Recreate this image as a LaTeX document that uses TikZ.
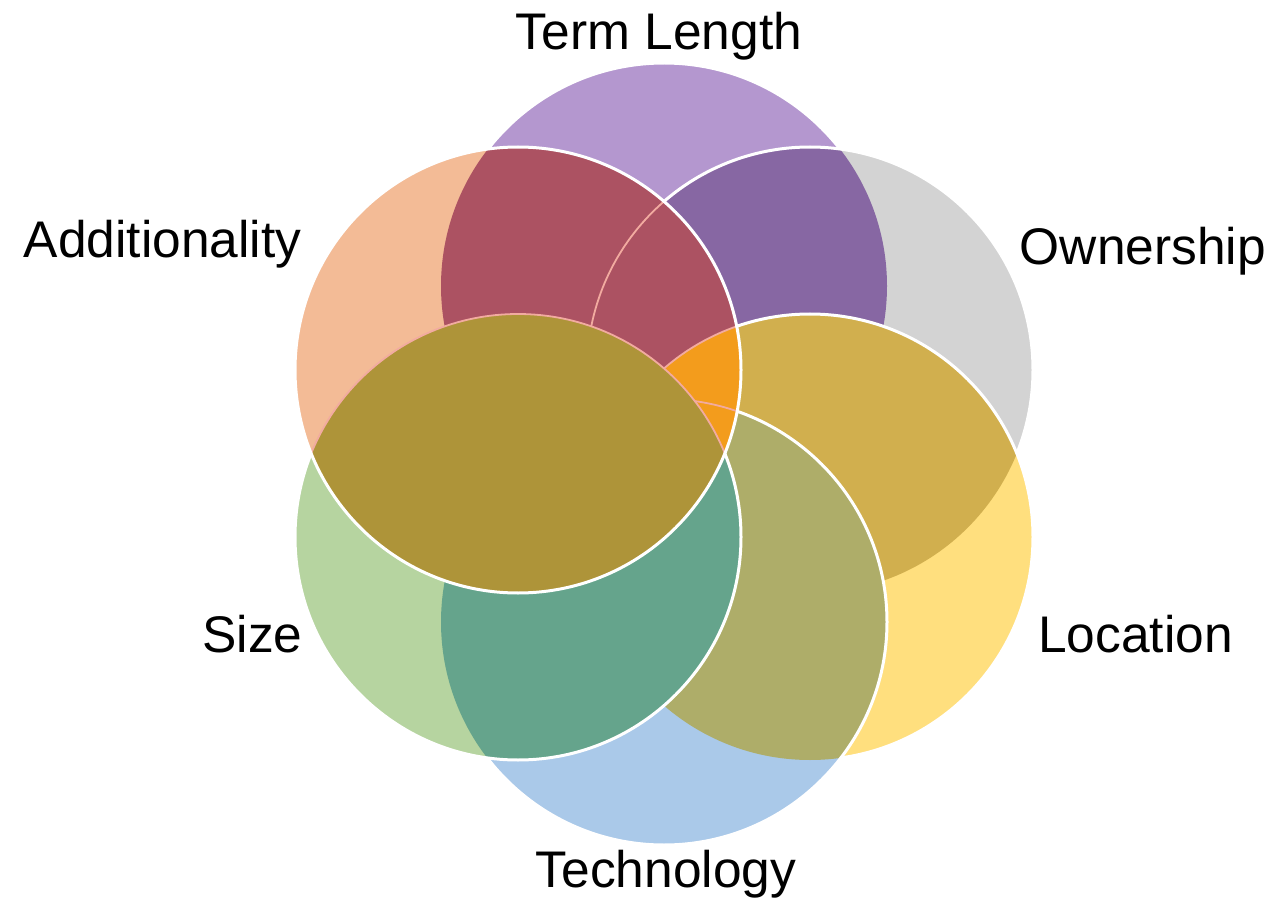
\documentclass[tikz,border=0pt]{standalone}
\usepackage{fontspec}
\setmainfont{Liberation Sans}
\definecolor{cT}{HTML}{B497CF}
\definecolor{cO}{HTML}{D3D3D3}
\definecolor{cL}{HTML}{FFDF7E}
\definecolor{cK}{HTML}{AAC9E9}
\definecolor{cS}{HTML}{B6D4A0}
\definecolor{cA}{HTML}{F3BB96}
\definecolor{cTO}{HTML}{8767A3}
\definecolor{cLO}{HTML}{D1AF4E}
\definecolor{cKL}{HTML}{AEAD69}
\definecolor{cSK}{HTML}{65A48C}
\definecolor{cAT}{HTML}{AC5262}
\definecolor{cAL}{HTML}{F39C1C}
\definecolor{cAS}{HTML}{AE9439}
\definecolor{pinkline}{HTML}{F2ABA0}
\begin{document}
\begin{tikzpicture}[x=1pt,y=-1pt,
  wline/.style={draw=white,line width=3pt},
  pline/.style={draw=pinkline,line width=1.8pt},
  lbl/.style={inner sep=0pt,font=\fontsize{51.5}{60}\selectfont,text=black}]
\useasboundingbox (0,0) rectangle (1277,901);
\coordinate (cT) at (664,286);
\coordinate (cO) at (810,370);
\coordinate (cL) at (810,537);
\coordinate (cK) at (664,622);
\coordinate (cS) at (518,537);
\coordinate (cA) at (518,370);
% Term Length
\fill[cT] (cT) circle (223pt);
\draw[wline] (cT) circle (223pt);
% Ownership
\fill[cO] (cO) circle (223pt);
\begin{scope}
  \clip (cO) circle (223pt);
  \fill[cTO] (cT) circle (223pt);
\end{scope}
\draw[wline] (cO) circle (223pt);
% Location
\fill[cL] (cL) circle (223pt);
\begin{scope}
  \clip (cL) circle (223pt);
  \fill[cLO] (cO) circle (223pt);
\end{scope}
\draw[wline] (cL) circle (223pt);
% Technology
\fill[cK] (cK) circle (223pt);
\begin{scope}
  \clip (cK) circle (223pt);
  \fill[cKL] (cL) circle (223pt);
\end{scope}
\draw[wline] (cK) circle (223pt);
% Size
\fill[cS] (cS) circle (223pt);
\begin{scope}
  \clip (cS) circle (223pt);
  \fill[cSK] (cK) circle (223pt);
\end{scope}
\draw[wline] (cS) circle (223pt);
% Additionality
\fill[cA] (cA) circle (223pt);
\begin{scope}
  \clip (cA) circle (223pt);
  \fill[cAT] (cT) circle (223pt);
  \fill[cAL] (cL) circle (223pt);
  \draw[pline] (cO) circle (223pt);
  \draw[pline] (cL) circle (223pt);
  \draw[pline] (cK) circle (223pt);
  \fill[cAS] (cS) circle (223pt);
  \draw[pline] (cS) circle (223pt);
\end{scope}
\draw[wline] (cA) circle (223pt);
% labels
\node[lbl,anchor=base] (tterm) at (659,50) {Term Length};
\node[lbl,anchor=base] (tadd) at (162.5,258) {Additionality};
\node[lbl,anchor=base] (town) at (1143,265) {Ownership};
\node[lbl,anchor=base] (tsize) at (252.5,652) {Size};
\node[lbl,anchor=base] (tloc) at (1135.5,652) {Location};
\node[lbl,anchor=base] (ttech) at (666,887) {Technology};
\end{tikzpicture}
\end{document}
